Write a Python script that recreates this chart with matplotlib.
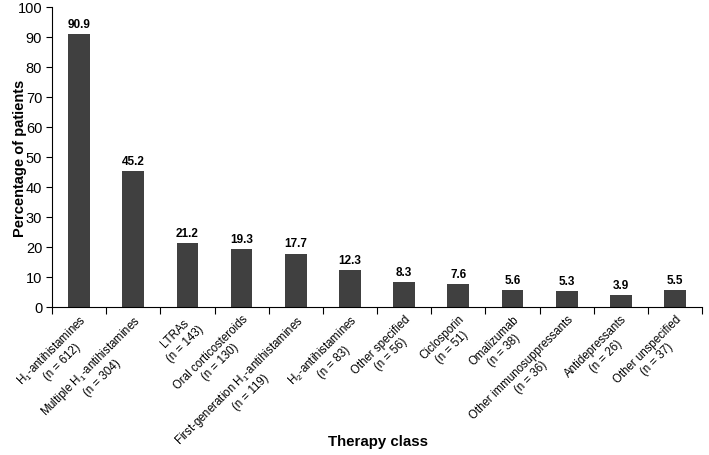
import matplotlib.pyplot as plt
import numpy as np

plt.rcParams["font.family"] = ["Liberation Sans", "DejaVu Sans"]
plt.rcParams["mathtext.fontset"] = "custom"
plt.rcParams["mathtext.rm"] = "Liberation Sans"
plt.rcParams["mathtext.it"] = "Liberation Sans:italic"

CATEGORIES = [
    "H$_1$-antihistamines\n(n = 612)",
    "Multiple H$_1$-antihistamines\n(n = 304)",
    "LTRAs\n(n = 143)",
    "Oral corticosteroids\n(n = 130)",
    "First-generation H$_1$-antihistamines\n(n = 119)",
    "H$_2$-antihistamines\n(n = 83)",
    "Other specified\n(n = 56)",
    "Ciclosporin\n(n = 51)",
    "Omalizumab\n(n = 38)",
    "Other immunosuppressants\n(n = 36)",
    "Antidepressants\n(n = 26)",
    "Other unspecified\n(n = 37)",
]
PERCENT = [90.9, 45.2, 21.2, 19.3, 17.7, 12.3, 8.3, 7.6, 5.6, 5.3, 3.9, 5.5]


def main():
    fig = plt.figure(figsize=(7.09, 4.56), dpi=100)
    ax = fig.add_axes([0.0733, 0.3246, 0.917, 0.658])

    x = np.arange(len(PERCENT))
    bars = ax.bar(x, PERCENT, width=0.4, color="#404040", zorder=2)
    for b, v in zip(bars, PERCENT):
        ax.text(b.get_x() + b.get_width() / 2, v + 1.5, f"{v:.1f}",
                ha="center", va="bottom", fontsize=8.5, fontweight="bold")

    ax.set_xlim(-0.5, len(PERCENT) - 0.5)
    ax.set_ylim(0, 100)
    ax.set_yticks(range(0, 101, 10))
    ax.tick_params(axis="y", labelsize=10.5, length=4, pad=3, direction="out")

    # tick marks between categories, labels centred under bars
    ax.set_xticks(np.arange(len(PERCENT) + 1) - 0.5)
    ax.set_xticklabels([])
    ax.tick_params(axis="x", length=5, direction="out")
    ax.set_xticks(x, minor=True)
    ax.set_xticklabels(CATEGORIES, minor=True, rotation=45, ha="right",
                       rotation_mode="anchor", multialignment="center",
                       fontsize=8.3)
    ax.tick_params(axis="x", which="minor", length=0, pad=4)

    for s in ["top", "right"]:
        ax.spines[s].set_visible(False)

    ax.set_ylabel("Percentage of patients", fontsize=10.5, fontweight="bold")
    ax.yaxis.set_label_coords(-0.038, 0.5)
    fig.text(0.533, 0.03, "Therapy class", ha="center", va="center",
             fontsize=10.8, fontweight="bold")

    fig.savefig("out.png", dpi=100)


if __name__ == "__main__":
    main()
